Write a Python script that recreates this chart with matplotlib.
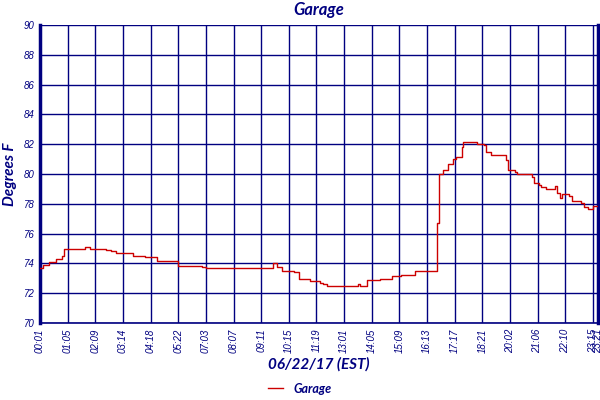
import matplotlib
matplotlib.use("Agg")
import matplotlib.pyplot as plt

# tick labels (one every 16 samples, last one at the final sample)
tick_labels = ["00:01", "01:05", "02:09", "03:14", "04:18", "05:22", "07:03",
               "08:07", "09:11", "10:15", "11:19", "13:01", "14:05", "15:09",
               "16:13", "17:17", "18:21", "20:02", "21:06", "22:10", "23:15",
               "23:21"]
tick_idx = [i * 16 for i in range(21)] + [323]

# change points: sample index -> temperature (deg F)
sample_idx = [0, 2, 5, 9, 13, 14, 26, 29, 34, 38, 41, 44, 54, 61, 68, 80, 94,
              96, 110, 126, 130, 135, 137, 140, 147, 150, 156, 162, 164, 166,
              184, 185, 189, 197, 204, 209, 217, 230, 231, 233, 236, 239, 241,
              244, 245, 253, 257, 258, 261, 270, 271, 275, 276, 285, 286, 289,
              290, 293, 298, 299, 301, 302, 306, 308, 313, 315, 317, 320, 323]
temp_f = [73.7, 73.9, 74.07, 74.3, 74.5, 75.0, 75.1, 75.0, 74.95, 74.9, 74.8,
          74.7, 74.5, 74.4, 74.15, 73.85, 73.75, 73.7, 73.66, 73.7, 73.66,
          74.0, 73.77, 73.5, 73.45, 72.98, 72.8, 72.7, 72.6, 72.5, 72.6, 72.5,
          72.86, 72.93, 73.16, 73.2, 73.48, 76.7, 80.0, 80.27, 80.7, 80.98,
          81.16, 81.8, 82.16, 82.04, 81.93, 81.5, 81.3, 80.93, 80.3, 80.15,
          80.0, 79.78, 79.38, 79.27, 79.1, 79.0, 79.2, 78.7, 78.36, 78.66,
          78.5, 78.2, 78.04, 77.78, 77.64, 77.87, 77.87]

navy = "#000080"
red = "#CC0000"
lab_font = dict(family="Lato", weight="bold", style="italic", color=navy)

fig = plt.figure(figsize=(6, 4), dpi=100)
ax = fig.add_axes([0.0667, 0.1925, 0.93, 0.745])

ax.plot(sample_idx, temp_f, color=red, lw=1.0, drawstyle="steps-post",
        label="Garage", zorder=3)

ax.set_xlim(0, 323)
ax.set_ylim(70, 90)
ax.set_yticks(range(70, 91, 2))
ax.set_xticks(tick_idx)
ax.set_xticklabels(tick_labels, rotation=90)
ax.grid(True, color=navy, lw=1.0)
ax.tick_params(length=0, labelsize=7, labelcolor=navy, pad=4)
for lbl in ax.get_xticklabels() + ax.get_yticklabels():
    lbl.set_fontstyle("italic")
    lbl.set_fontfamily("Liberation Sans")

ax.spines["top"].set_visible(False)
ax.spines["left"].set_color(navy)
ax.spines["left"].set_linewidth(2.5)
ax.spines["right"].set_color(navy)
ax.spines["right"].set_linewidth(2.5)
ax.spines["bottom"].set_color(navy)
ax.spines["bottom"].set_linewidth(1.2)

ax.set_title("Garage", fontsize=12, pad=7, **lab_font)
ax.set_ylabel("Degrees F", fontsize=11, labelpad=5, **lab_font)
ax.set_xlabel("06/22/17 (EST)", fontsize=11, labelpad=3, **lab_font)

leg = fig.legend(loc="lower center", bbox_to_anchor=(0.5, -0.015), frameon=False,
                 handlelength=1.2, prop=dict(family="Lato", weight="bold",
                                             style="italic", size=9))
for t in leg.get_texts():
    t.set_color(navy)

fig.savefig("out.png", dpi=100)
